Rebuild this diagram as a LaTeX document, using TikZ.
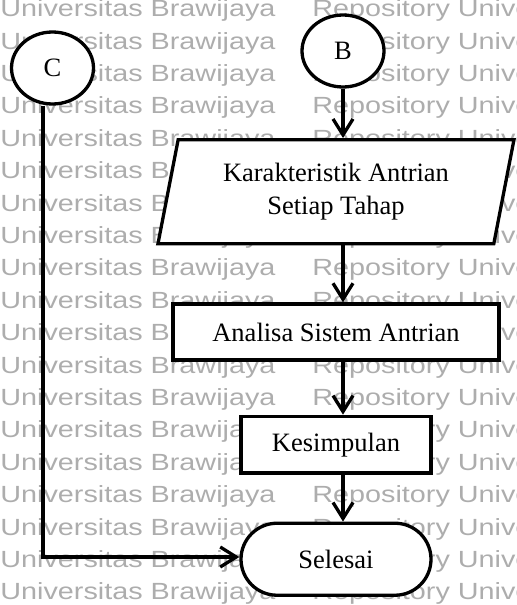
\documentclass[tikz,border=0pt]{standalone}
\usepackage{fontspec}
\setmainfont{Liberation Serif}
\newfontfamily\wmfont{Liberation Sans}
\usetikzlibrary{shapes, arrows.meta, positioning}
\tikzset{
	wmark/.style={inner sep=0pt, text=black!32,
		font=\wmfont\fontsize{11.7pt}{12pt}\selectfont},
	box/.style={draw, line width=1.65pt, fill=white,
		font=\fontsize{13.25pt}{16.5pt}\selectfont},
	conn/.style={box, ellipse, inner sep=0pt,
		minimum width=41pt, minimum height=36pt},
	arr/.style={line width=1.65pt,
		-{Straight Barb[length=8pt, width=10pt]}}
}
\begin{document}
\begin{tikzpicture}[x=0.5pt, y=-0.5pt]
	\clip (0,0) rectangle (517,605);
	% background text
	\foreach \k in {0,...,18} {
		\node[wmark, anchor=base west] (wa\k) at (0,16.7+32.4*\k)
			{\scalebox{1.23}[1]{Universitas Brawijaya}};
		\node[wmark, anchor=base west] (wb\k) at (312,16.7+32.4*\k)
			{\scalebox{1.23}[1]{Repository Universitas}};
	}
	% connectors
	\node[conn] (C) at (52.5,68) {C};
	\node[conn] (B) at (343,51) {B};
	% draw flowchart nodes
	\node[box,
	trapezium,
	trapezium left angle=74,
	trapezium right angle=106,
	trapezium stretches body,
	minimum width=178pt,
	minimum height=52pt,
	align=center,
	below=24.7pt of B,
	xshift=-3.5pt] (karakter) {
	Karakteristik Antrian\\Setiap Tahap
	};
	\node[box,
	minimum width=163pt,
	minimum height=28pt,
	below=28.5pt of karakter] (analisa) {
	Analisa Sistem Antrian
	};
	\node[box,
	minimum width=95pt,
	minimum height=28.3pt,
	below=26.5pt of analisa] (simpul) {
	Kesimpulan
	};
	\node[box,
	rounded corners=18pt,
	minimum width=95pt,
	minimum height=36pt,
	below=23.5pt of simpul] (selesai) {
	Selesai
	};
	\coordinate (cturn) at (43,557);
	
	% Arrows
	\draw[arr] (B) -- (B |- karakter.north);
	\draw[arr] (karakter.south -| B) -- (B |- analisa.north);
	\draw[arr] (analisa.south -| B) -- (B |- simpul.north);
	\draw[arr] (simpul.south -| B) -- (B |- selesai.north);
	\draw[arr] (C.south -| cturn) -- (cturn) -- (selesai.west |- cturn);
\end{tikzpicture}
\end{document}
